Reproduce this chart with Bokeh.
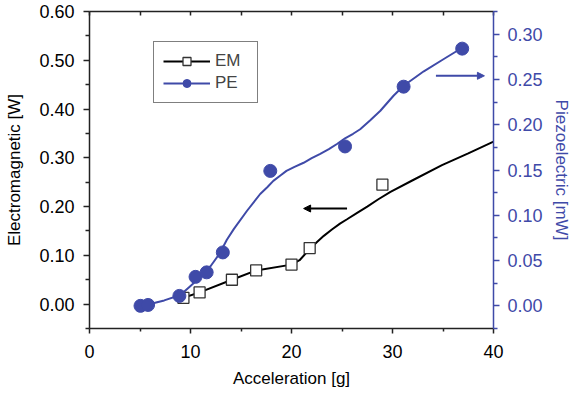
from bokeh.plotting import figure
from bokeh.models import (Range1d, LinearAxis, Legend, LegendItem, Arrow, NormalHead,
                          FixedTicker, NumeralTickFormatter)
from bokeh.embed import file_html
from bokeh.resources import INLINE

# ---- data ----
em_x = [9.3, 10.9, 14.1, 16.5, 20.0, 21.8, 29.0]
em_y = [0.013, 0.024, 0.050, 0.069, 0.081, 0.115, 0.245]
em_fit_x = [9.0, 9.3, 10.9, 14.1, 16.5, 20.0, 20.8, 21.8, 22.5, 23.2, 24.0, 24.8, 25.5, 26.5, 27.5, 28.6, 29.8, 32.0, 34.9, 37.5, 40.0]
em_fit_y = [0.010, 0.013, 0.024, 0.050, 0.069, 0.081, 0.090, 0.113, 0.127, 0.140, 0.153, 0.165, 0.174, 0.187, 0.200, 0.215, 0.230, 0.254, 0.285, 0.309, 0.333]

pe_x = [5.05, 5.8, 8.9, 10.5, 11.6, 13.2, 17.9, 25.3, 31.1, 36.9]
pe_y = [0.000, 0.001, 0.011, 0.032, 0.037, 0.059, 0.149, 0.176, 0.242, 0.284]
pe_fit_x = [5.0, 6.0, 7.4, 9.0, 10.0, 11.0, 12.0, 12.9, 13.6, 14.3, 15.6, 16.9, 17.6, 18.2, 18.9, 19.5, 20.3, 21.2, 22.0, 22.8, 23.7, 24.5, 25.3, 26.1, 26.8, 27.8, 28.8, 30.1, 31.1, 33.1, 35.0, 36.9]
pe_fit_y = [0.000, 0.002, 0.006, 0.012, 0.022, 0.032, 0.044, 0.058, 0.073, 0.085, 0.105, 0.1235, 0.131, 0.138, 0.144, 0.149, 0.1535, 0.158, 0.163, 0.1676, 0.173, 0.1787, 0.185, 0.190, 0.195, 0.205, 0.2154, 0.232, 0.243, 0.259, 0.272, 0.285]

x_major = [0, 10, 20, 30, 40]
x_minor = [5, 15, 25, 35]
left_major = [0.0, 0.1, 0.2, 0.3, 0.4, 0.5, 0.6]
left_minor = [-0.05, 0.05, 0.15, 0.25, 0.35, 0.45, 0.55]
right_major = [0.0, 0.05, 0.10, 0.15, 0.20, 0.25, 0.30]
right_minor = [-0.025, 0.025, 0.075, 0.125, 0.175, 0.225, 0.275, 0.325]

# annotation arrows (data coords)
em_arrow = dict(x_start=25.5, x_end=21.2, y=0.196)
pe_arrow = dict(x_start=34.3, x_end=39.1, y=0.254)

BLUE = "#3f4aa8"
FONT = "Liberation Sans"
AXC = "#222222"

p = figure(width=574, height=395, x_range=Range1d(0, 40), y_range=Range1d(-0.05, 0.60),
           output_backend="svg", toolbar_location=None,
           min_border_left=89, min_border_right=81, min_border_top=11, min_border_bottom=67)
p.extra_y_ranges = {"pe": Range1d(-0.025, 0.325)}
p.xgrid.visible = False
p.ygrid.visible = False
p.outline_line_color = None
p.background_fill_color = "white"
p.border_fill_color = "white"


def style(ax, color):
    ax.axis_line_color = color
    ax.axis_line_width = 1.5
    ax.major_tick_line_color = color
    ax.minor_tick_line_color = color
    ax.major_tick_line_width = 1.5
    ax.minor_tick_line_width = 1.5
    ax.major_tick_in = 0
    ax.major_tick_out = 6
    ax.minor_tick_in = 0
    ax.minor_tick_out = 4
    ax.major_label_text_font = FONT
    ax.major_label_text_font_size = "18px"
    ax.major_label_text_color = color if color != AXC else "black"
    ax.axis_label_text_font = FONT
    ax.axis_label_text_font_size = "17px"
    ax.axis_label_text_font_style = "normal"
    ax.axis_label_text_color = color if color != AXC else "black"


xa = p.xaxis[0]
style(xa, AXC)
xa.ticker = FixedTicker(ticks=x_major, minor_ticks=x_minor)
xa.axis_label = "Acceleration [g]"
xa.major_label_standoff = 11
xa.axis_label_standoff = 8
xa.major_tick_out = 5
xa.minor_tick_out = 3

ya = p.yaxis[0]
style(ya, AXC)
ya.ticker = FixedTicker(ticks=left_major, minor_ticks=left_minor)
ya.formatter = NumeralTickFormatter(format="0.00")
ya.axis_label = "Electromagnetic [W]"
ya.major_label_standoff = 9
ya.axis_label_standoff = 12

ra = LinearAxis(y_range_name="pe")
style(ra, BLUE)
ra.ticker = FixedTicker(ticks=right_major, minor_ticks=right_minor)
ra.formatter = NumeralTickFormatter(format="0.00")
ra.axis_label = "Piezoelectric [mW]"
ra.major_label_standoff = 8
ra.axis_label_standoff = 6
p.add_layout(ra, "right")

ta = LinearAxis()
ta.ticker = FixedTicker(ticks=x_major + x_minor, minor_ticks=[])
ta.axis_line_color = AXC
ta.axis_line_width = 1.5
ta.major_tick_line_color = AXC
ta.major_tick_line_width = 1.5
ta.major_tick_in = 4
ta.major_tick_out = 0
ta.minor_tick_in = 0
ta.minor_tick_out = 0
ta.major_label_text_font_size = "0px"
ta.major_label_standoff = 0
ta.major_label_text_alpha = 0
p.add_layout(ta, "above")

# series
em_line = p.line(em_fit_x, em_fit_y, line_color="black", line_width=2)
pe_line = p.line(pe_fit_x, pe_fit_y, line_color=BLUE, line_width=2, y_range_name="pe")
em_pts = p.scatter(em_x, em_y, marker="square", size=11, fill_color="white",
                   line_color="#333333", line_width=1.3)
pe_pts = p.scatter(pe_x, pe_y, marker="circle", size=13, fill_color=BLUE,
                   line_color=BLUE, y_range_name="pe")

# arrows
p.add_layout(Arrow(end=NormalHead(size=7, fill_color="black", line_color="black", line_width=1),
                   x_start=em_arrow["x_start"], y_start=em_arrow["y"],
                   x_end=em_arrow["x_end"], y_end=em_arrow["y"],
                   line_color="black", line_width=2))
p.add_layout(Arrow(end=NormalHead(size=7, fill_color=BLUE, line_color=BLUE, line_width=1),
                   x_start=pe_arrow["x_start"], y_start=pe_arrow["y"],
                   x_end=pe_arrow["x_end"], y_end=pe_arrow["y"],
                   line_color=BLUE, line_width=2, y_range_name="pe"))

legend = Legend(items=[LegendItem(label="EM", renderers=[em_line, em_pts]),
                       LegendItem(label="PE", renderers=[pe_line, pe_pts])],
                location=(64, 225), padding=9, spacing=2, glyph_width=47, glyph_height=20,
                label_standoff=5, label_width=33, label_height=20,
                label_text_font=FONT, label_text_font_size="17px",
                border_line_color="black", border_line_width=1.2,
                background_fill_color="white", background_fill_alpha=1.0, margin=0)
p.add_layout(legend)

open("out.html", "w").write(file_html(p, INLINE))
